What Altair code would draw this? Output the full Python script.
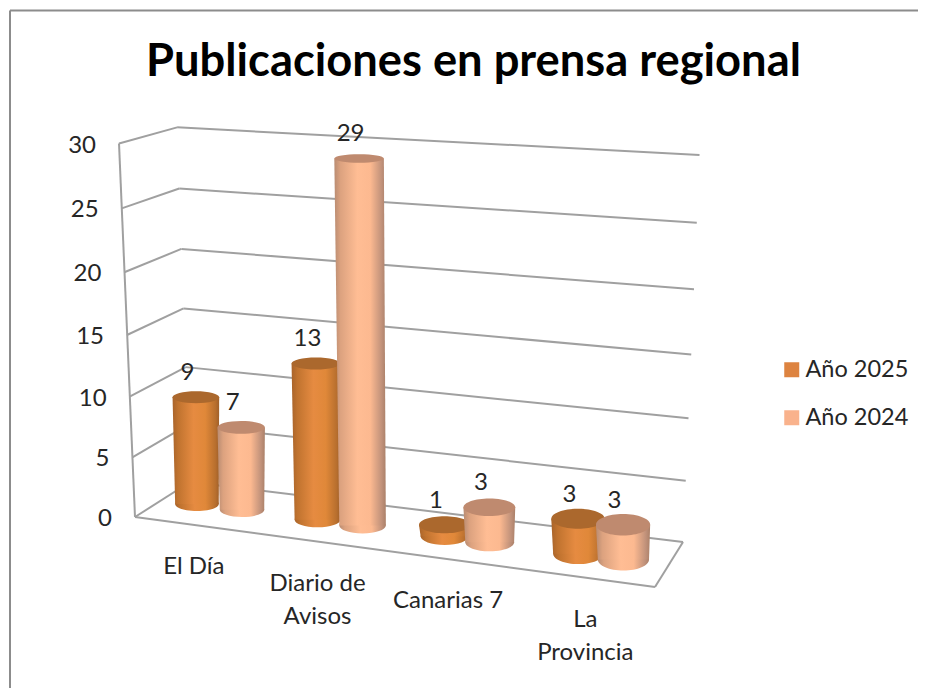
import altair as alt
import pandas as pd

TITLE = "Publicaciones en prensa regional"
CATEGORIES = ["El Día", "Diario de\nAvisos", "Canarias 7", "La\nProvincia"]
SERIES = ["Año 2025", "Año 2024"]
VALUES_2025 = [9, 13, 1, 3]
VALUES_2024 = [7, 29, 3, 3]
TICKS = [0, 5, 10, 15, 20, 25, 30]

FONT = "Lato"
TEXT = "#262626"
GRID = "#a0a0a0"
FRAME = "#8c8c8c"

XS = alt.Scale(domain=[8, 918], nice=False, zero=False)
YS = alt.Scale(domain=[688, 8], nice=False, zero=False)


def X(f):
    return alt.X(f, type="quantitative", scale=XS, axis=None)


def Y(f):
    return alt.Y(f, type="quantitative", scale=YS, axis=None)


# ---- oblique projection of the 3-D box -------------------------------
def front(v):
    return 135 - 0.533 * v, 517 - (11.816 * v + 0.0211 * v * v)


def back(v):
    return 190 - 0.43 * v, 482 - (11.32 * v + 0.0167 * v * v)


def right(v):
    return 683 + 0.55 * v, 542 - (12.1 * v + 0.0267 * v * v)


def floor_mid(u):
    return 162.5 + 506.5 * u, 499.5 + 66 * u


def front_floor(u):
    return 135 + 520 * u, 517 + 70 * u


CLUSTER = [0.113, 0.351, 0.602, 0.866]
SHIFT = [-0.045, 0.044]


def cylinder(c, s, v):
    u = CLUSTER[c] + SHIFT[s]
    bx, by = floor_mid(u)
    tx = bx - 0.12 * v
    ty = by - v * (11.5 + 0.04 * v)
    rb = 21.5 + 4.5 * u
    rt = rb + 1.5
    ry = lambda y: 3.6 + 0.01 * (y - 161) + 4.2 * u * u
    return dict(bx=bx, by=by, tx=tx, ty=ty, rb=rb, rt=rt, ryb=ry(by), ryt=ry(ty), v=v, c=c)


def ellipse(rx, ry):
    r = ry / rx
    return f"M-1,0A1,{r:.3f} 0 1,1 1,0A1,{r:.3f} 0 1,1 -1,0Z"


def grad(stops):
    return alt.Gradient(
        gradient="linear", x1=0, x2=1, y1=0, y2=0,
        stops=[alt.GradientStop(offset=o, color=c) for o, c in stops],
    )


ORANGE = grad([(0, "#a9642b"), (0.12, "#c0732f"), (0.45, "#e68b41"), (0.7, "#e08839"), (0.92, "#b86f2e"), (1, "#a0602a")])
PEACH = grad([(0, "#b98c72"), (0.12, "#dca27f"), (0.45, "#ffbd94"), (0.7, "#fcb990"), (0.92, "#c0917a"), (1, "#ab8068")])
TOPS = ["#ab682d", "#bf8a6f"]
FILLS = [ORANGE, PEACH]

# ---- frame and walls --------------------------------------------------
segs = []
frame = [dict(x=10, y=10.5, x2=918, y2=10.5), dict(x=10, y=10.5, x2=10, y2=688)]
for t in TICKS:
    fx, fy = front(t)
    bx, by = back(t)
    rx, ry = right(t)
    segs.append(dict(x=fx, y=fy, x2=bx, y2=by))
    segs.append(dict(x=bx, y=by, x2=rx, y2=ry))
segs.append(dict(x=front(0)[0], y=front(0)[1], x2=front(30)[0], y2=front(30)[1]))
segs.append(dict(x=135, y=517, x2=655, y2=587))
segs.append(dict(x=655, y=587, x2=683, y2=542))

layers = []
layers.append(
    alt.Chart(pd.DataFrame(frame)).mark_rule(color=FRAME, strokeWidth=2).encode(
        x=X("x"), y=Y("y"), x2="x2", y2="y2")
)
layers.append(
    alt.Chart(pd.DataFrame(segs)).mark_rule(color=GRID, strokeWidth=2).encode(
        x=X("x"), y=Y("y"), x2="x2", y2="y2")
)

# ---- cylinders ----------------------------------------------------------
labels = []
for s, vals in enumerate([VALUES_2025, VALUES_2024]):
    cyls = [cylinder(c, s, v) for c, v in enumerate(vals)]
    base = pd.DataFrame(
        [dict(x=k["bx"], y=k["by"], shape=ellipse(k["rb"], k["ryb"]), size=(2 * k["rb"]) ** 2) for k in cyls]
    )
    tops = pd.DataFrame(
        [dict(x=k["tx"], y=k["ty"], shape=ellipse(k["rt"], k["ryt"]), size=(2 * k["rt"]) ** 2) for k in cyls]
    )
    body = []
    for k in cyls:
        body.append(dict(y=k["ty"], xl=k["tx"] - k["rt"], xr=k["tx"] + k["rt"], cyl=k["c"]))
        body.append(dict(y=k["by"], xl=k["bx"] - k["rb"], xr=k["bx"] + k["rb"], cyl=k["c"]))
    layers.append(
        alt.Chart(base).mark_point(filled=True, color=FILLS[s], opacity=1, strokeWidth=0).encode(
            x=X("x"), y=Y("y"),
            shape=alt.Shape("shape:N", scale=None),
            size=alt.Size("size:Q", scale=None),
        )
    )
    layers.append(
        alt.Chart(pd.DataFrame(body)).mark_area(orient="horizontal", color=FILLS[s], opacity=1).encode(
            y=Y("y"), x=X("xl"), x2="xr", detail="cyl:N",
        )
    )
    layers.append(
        alt.Chart(tops).mark_point(filled=True, color=TOPS[s], opacity=1, strokeWidth=0).encode(
            x=X("x"), y=Y("y"),
            shape=alt.Shape("shape:N", scale=None),
            size=alt.Size("size:Q", scale=None),
        )
    )
    for k in cyls:
        labels.append(dict(x=k["tx"] - 8.5, y=k["ty"] - 24, t=str(k["v"])))

layers.append(
    alt.Chart(pd.DataFrame(labels)).mark_text(font=FONT, fontSize=24, color=TEXT, baseline="middle").encode(
        x=X("x"), y=Y("y"), text="t:N")
)

# ---- value axis labels ----------------------------------------------------
axis_rows = [dict(x=front(t)[0] - 23, y=front(t)[1] + 2, t=str(t)) for t in TICKS]
layers.append(
    alt.Chart(pd.DataFrame(axis_rows)).mark_text(font=FONT, fontSize=24, color=TEXT, align="right", baseline="middle").encode(
        x=X("x"), y=Y("y"), text="t:N")
)

# ---- category labels --------------------------------------------------------
cat_rows = []
for c, name in enumerate(CATEGORIES):
    fx, fy = front_floor(CLUSTER[c])
    cat_rows.append(dict(x=fx, y=fy + 30, t=name))
layers.append(
    alt.Chart(pd.DataFrame(cat_rows)).mark_text(
        font=FONT, fontSize=24, color=TEXT, align="center", baseline="top", lineBreak="\n", lineHeight=33
    ).encode(x=X("x"), y=Y("y"), text="t:N")
)

# ---- title --------------------------------------------------------------------
layers.append(
    alt.Chart(pd.DataFrame([dict(x=473.5, y=76, t=TITLE)])).mark_text(
        font=FONT, fontSize=45.3, fontWeight="bold", color="#000000", align="center", baseline="alphabetic"
    ).encode(x=X("x"), y=Y("y"), text="t:N")
)

# ---- legend ---------------------------------------------------------------------
legend_df = pd.DataFrame([dict(x=800, y=400, s=SERIES[0]), dict(x=800, y=400, s=SERIES[1])])
layers.append(
    alt.Chart(legend_df).mark_square(size=0, opacity=1).encode(
        x=X("x"), y=Y("y"),
        color=alt.Color(
            "s:N",
            scale=alt.Scale(domain=SERIES, range=["#dd8340", "#f9b28c"]),
            legend=alt.Legend(
                orient="none", legendX=772, legendY=350, title=None, symbolType="square",
                symbolSize=225, symbolOpacity=1, symbolStrokeWidth=0, labelFont=FONT, labelFontSize=23.5,
                labelColor=TEXT, labelOffset=2, rowPadding=23, labelLimit=200,
            ),
        ),
    )
)

chart = alt.layer(*layers).properties(
    width=910, height=680, padding=0, autosize=alt.AutoSizeParams(type="none")
).configure_view(stroke=None)

chart.save("out.html", embed_options={"renderer": "svg", "actions": False})
